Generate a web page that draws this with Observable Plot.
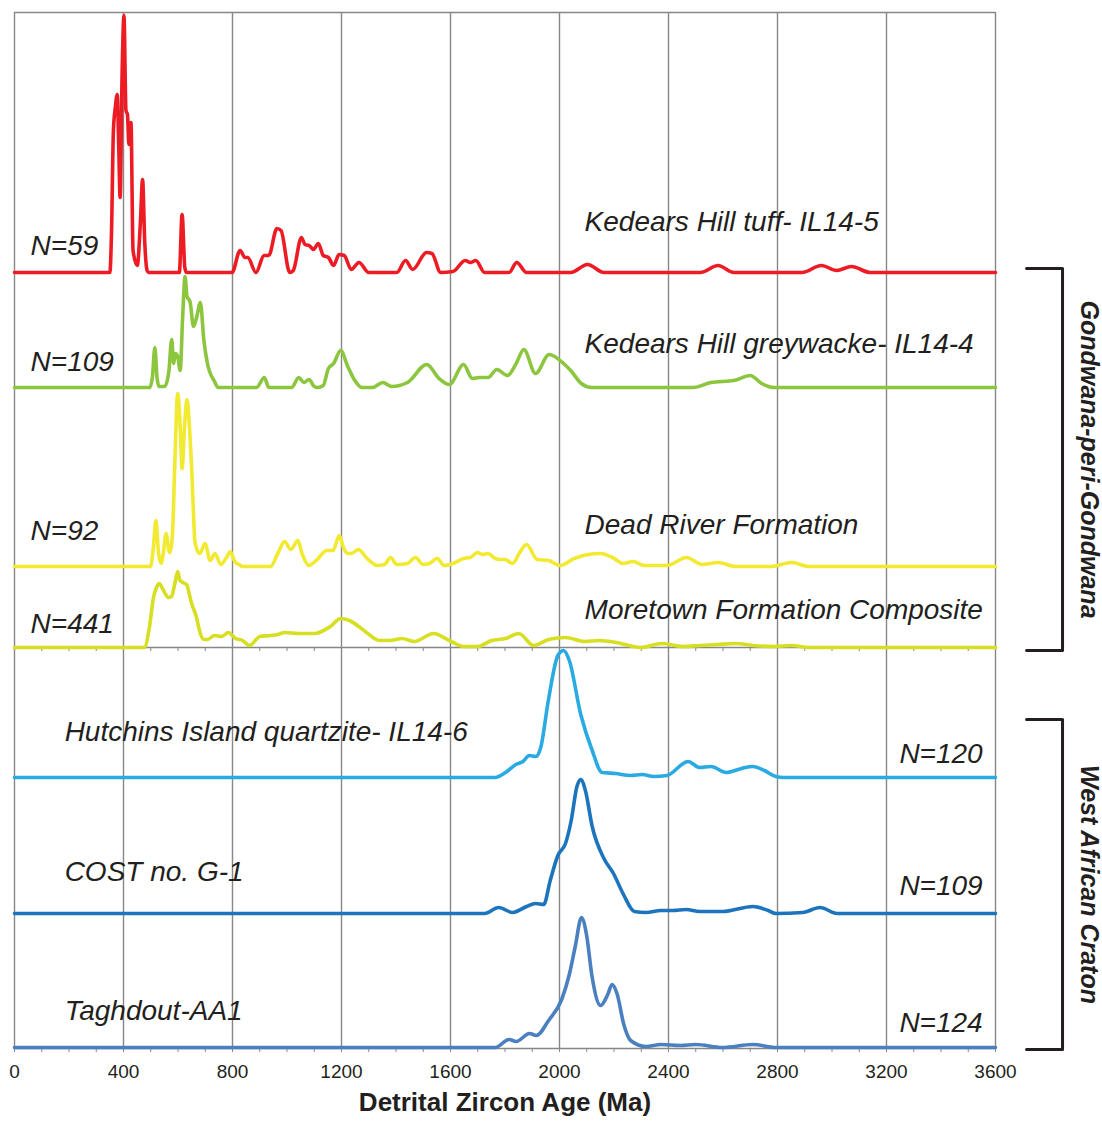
<!DOCTYPE html>
<html><head><meta charset="utf-8">
<script src="https://cdn.jsdelivr.net/npm/d3@7"></script>
<script src="https://cdn.jsdelivr.net/npm/@observablehq/plot@0.6"></script>
<style>body{margin:0;background:#fff;} #chart svg{display:block}</style>
</head><body><div id="chart"></div>
<script>
// ---- data: [age (Ma), relative probability] ----
const tuff = [[0,0],[350,0],[356,40],[363,142],[370,165],[377,178],[383,120],[387.5,75],[395,200],[401.7,257],[409,162],[414.6,158],[419.7,128],[427.4,150],[435,22],[450.6,7],[462,50],[470,93],[478,30],[486.6,2],[492,0],[605,0],[615,58],[625,5],[631,0],[798,0],[828,22],[846,15],[856,15],[886,0],[916,17],[933,17],[963,44],[978,42],[1010,0],[1023,2],[1053,35],[1066,28],[1081,27],[1097,23],[1115,29],[1133,17],[1152,15],[1171,7],[1191,18],[1210,17],[1236,3],[1264,10],[1300,0],[1403,0],[1435,12],[1461,3],[1512,20],[1532,19],[1564,0],[1609,1],[1654,12],[1673,10],[1693,12],[1725,0],[1815,0],[1843,10],[1879,0],[2041,0],[2103,8],[2163,0],[2517,0],[2582,7],[2640,0],[2890,0],[2961,7],[3017,2],[3071,6],[3141,0],[3600,0]];
const greywacke = [[0,0],[496,0],[506,10],[515,40],[523,10],[530,1],[551,1],[566,15],[577,48],[584,24],[590,34],[599,31],[608,17],[617,70],[626,111],[633,91],[644,86],[657,61],[669,71],[682,85],[695,47],[708,24],[734,6],[747,0],[888,0],[917,10],[933,0],[1017,0],[1043,10],[1062,5],[1081,8],[1100,1],[1113,0],[1133,2],[1152,19],[1171,24],[1197,37],[1223,21],[1249,7],[1274,0],[1313,0],[1352,5],[1384,1],[1442,5],[1513,23],[1558,9],[1596,3],[1648,23],[1680,9],[1706,10],[1738,10],[1770,18],[1809,12],[1841,24],[1869,38],[1912,14],[1962,33],[2015,24],[2041,17],[2080,4],[2118,0],[2491,0],[2556,5],[2640,7],[2700,12],[2742,4],[2787,0],[3600,0]];
const deadRiver = [[0,0],[499,0],[510,20],[519,46],[528,15],[538,3],[547,15],[556,33],[569,14],[579,29],[588,100],[599,173],[608,140],[615,98],[624,140],[633,167],[642,140],[650,99],[663,23],[680,13],[699,23],[718,6],[736,13],[757,2],[780,10],[792,15],[808,5],[824,2],[837,0],[940,0],[966,13],[991,25],[1014,17],[1040,26],[1055,13],[1081,1],[1107,6],[1146,16],[1169,16],[1192,31],[1207,19],[1223,13],[1236,13],[1262,17],[1294,8],[1332,1],[1358,2],[1380,9],[1403,2],[1442,3],[1471,9],[1500,2],[1522,3],[1551,8],[1577,1],[1609,3],[1648,8],[1673,9],[1699,14],[1718,12],[1738,13],[1764,8],[1783,7],[1800,7],[1828,3],[1854,14],[1879,22],[1918,7],[1960,6],[2002,1],[2054,8],[2105,12],[2150,13],[2195,9],[2234,3],[2270,5],[2311,1],[2395,1],[2466,9],[2524,2],[2582,4],[2646,0],[2775,0],[2852,4],[2916,0],[3600,0]];
const moretown = [[0,0],[476,0],[495,20],[510,50],[521,60],[531,64],[545,58],[565,50],[576,51],[590,66],[599,76],[606,68],[612,66],[631,63],[650,44],[667,31],[682,14],[695,8],[708,8],[734,12],[760,11],[785,15],[811,9],[837,7],[862,2],[901,11],[940,12],[966,13],[991,15],[1043,14],[1101,14],[1159,21],[1197,29],[1236,26],[1287,16],[1339,7],[1377,7],[1422,9],[1467,6],[1538,14],[1596,7],[1648,1],[1699,1],[1751,7],[1802,9],[1851,14],[1905,2],[1960,8],[2022,10],[2092,6],[2144,7],[2208,5],[2298,0],[2376,4],[2453,1],[2517,2],[2581,3],[2646,4],[2710,2],[2787,1],[2852,2],[2916,0],[3600,0]];
const hutchins = [[0,0],[1764,0],[1802,5],[1840,13],[1866,16],[1889,22],[1913,21],[1931,30],[1959,77],[1994,122],[2015,127],[2036,117],[2078,63],[2120,27],[2156,5],[2205,4],[2261,2],[2303,3],[2345,1],[2394,2],[2472,16],[2514,10],[2556,11],[2612,5],[2668,9],[2710,11],[2752,7],[2794,1],[2823,0],[3600,0]];
const costG1 = [[0,0],[1725,0],[1777,6],[1828,1],[1879,7],[1912,10],[1942,9],[1966,33],[1994,58],[2022,70],[2043,93],[2064,127],[2078,134],[2095,123],[2120,87],[2163,55],[2198,40],[2233,20],[2275,2],[2317,1],[2373,3],[2415,3],[2465,4],[2514,2],[2598,2],[2710,7],[2766,3],[2794,0],[2893,1],[2956,6],[3019,0],[3600,0]];
const taghdout = [[0,0],[1764,0],[1815,8],[1841,6],[1890,14],[1915,12],[1960,27],[2008,48],[2036,73],[2057,100],[2081,130],[2099,113],[2120,70],[2151,42],[2177,53],[2193,63],[2212,53],[2236,23],[2261,7],[2317,1],[2373,3],[2443,2],[2500,3],[2598,0],[2710,3],[2794,0],[3600,0]];

const sampleNames = ["Kedears Hill tuff- IL14-5","Kedears Hill greywacke- IL14-4","Dead River Formation","Moretown Formation Composite","Hutchins Island quartzite- IL14-6","COST no. G-1","Taghdout-AA1"];
const sampleN = [59,109,92,441,120,109,124];
const sampleColors = ["#ed1c24","#8cc63f","#f2ea30","#d7df23","#29aae2","#1c75bc","#4a7fc0"];
const ageTicks = [0,400,800,1200,1600,2000,2400,2800,3200,3600];
const groupNames = ["Gondwana-peri-Gondwana","West African Craton"];

// ---- layout ----
const baselines = [776,661,482,401,271,135,1];
const nameX = [2092,2092,2092,2092,184,184,184];
const nameDy = [50,43,41,37,45,41,36];
const nX = [59,59,59,59,3553,3553,3553];
const nDy = [26,25,35,23,23,27,24];
const groupSpan = [[398,780],[-1,329]];
const bracketX = [3714,3846];
const groupLabelX = 3942;

const allSeries = [tuff, greywacke, deadRiver, moretown, hutchins, costG1, taghdout];
const table = allSeries.flatMap((vals, i) => vals.map(([age, p]) => ({sample: sampleNames[i], age, y: p + baselines[i]})));
const nameRows = sampleNames.map((t, i) => ({text: t, x: nameX[i], y: baselines[i] + nameDy[i]}));
const nRows = sampleN.map((n, i) => ({text: "N=" + n, x: nX[i], y: baselines[i] + nDy[i], right: i >= 4}));
const bracketRows = groupNames.flatMap((g, i) => [
  {g, x: bracketX[0], y: groupSpan[i][1]}, {g, x: bracketX[1], y: groupSpan[i][1]},
  {g, x: bracketX[1], y: groupSpan[i][0]}, {g, x: bracketX[0], y: groupSpan[i][0]}]);
const groupRows = groupNames.map((g, i) => ({text: g, x: groupLabelX, y: (groupSpan[i][0] + groupSpan[i][1]) / 2}));
const minorTicks = d3.range(0, 3601, 100);
const grid = "#878787";
const ink = "#231f20";

const chart = Plot.plot({
  width: 1102, height: 1125,
  marginLeft: 14, marginRight: 107, marginTop: 12, marginBottom: 77,
  style: {fontFamily: "'Liberation Sans', Arial, Helvetica, sans-serif", color: ink, background: "#fff", overflow: "visible"},
  x: {domain: [0, 3600], label: null},
  y: {domain: [0, 1036], axis: null},
  color: {domain: sampleNames, range: sampleColors},
  marks: [
    Plot.ruleX(ageTicks, {stroke: grid, strokeWidth: 1.4}),
    Plot.ruleY([1036], {x1: 0, x2: 3600, stroke: grid, strokeWidth: 1.4}),
    Plot.ruleY([0, baselines[3]], {x1: 0, x2: 3600, stroke: grid, strokeWidth: 1.4}),
    Plot.ruleX(minorTicks, {y1: 0, y2: -4, stroke: grid, strokeWidth: 1}),
    Plot.ruleX(minorTicks, {y1: baselines[3], y2: baselines[3] - 4, stroke: grid, strokeWidth: 1}),
    Plot.line(table, {x: "age", y: "y", z: "sample", stroke: "sample", strokeWidth: 3.6, curve: "monotone-x", strokeLinejoin: "round"}),
    Plot.axisX(ageTicks, {tickSize: 0, tickPadding: 16, fontSize: 19, tickFormat: d => String(d)}),
    Plot.text(["Detrital Zircon Age (Ma)"], {text: d => d, frameAnchor: "bottom", dy: 62, fontSize: 26, fontWeight: "bold", fill: ink}),
    Plot.text(nameRows, {x: "x", y: "y", text: "text", textAnchor: "start", fontSize: 28, fontStyle: "italic", fill: ink}),
    Plot.text(nRows.filter(d => !d.right), {x: "x", y: "y", text: "text", textAnchor: "start", fontSize: 28, fontStyle: "italic", fill: ink}),
    Plot.text(nRows.filter(d => d.right), {x: "x", y: "y", text: "text", textAnchor: "end", fontSize: 28, fontStyle: "italic", fill: ink}),
    Plot.line(bracketRows, {x: "x", y: "y", z: "g", stroke: ink, strokeWidth: 3}),
    Plot.text(groupRows, {x: "x", y: "y", text: "text", rotate: 90, fontSize: 25, fontWeight: "bold", fontStyle: "italic", fill: ink})
  ]
});
document.getElementById("chart").append(chart);
</script>
</body></html>
